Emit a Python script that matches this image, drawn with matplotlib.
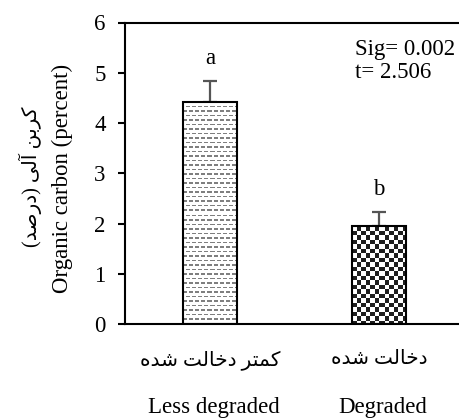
import numpy as np
import matplotlib
matplotlib.use("Agg")
import matplotlib.pyplot as plt
from matplotlib.transforms import blended_transform_factory

# data
groups_fa = ["کمتر دخالت شده", "دخالت شده"]
groups_en = ["Less degraded", "Degraded"]
means = [4.42, 1.95]
errors = [0.41, 0.27]
letters = ["a", "b"]
ylabel_fa = "کربن آلی (درصد)"
ylabel_en = "Organic carbon (percent)"
stats_text = "Sig= 0.002\nt= 2.506"

# Persian letters in presentation forms: isolated, final[, initial, medial]
FORMS = {
    'ا': '\uFE8D\uFE8E', 'آ': '\uFE81\uFE82', 'د': '\uFEA9\uFEAA', 'ر': '\uFEAD\uFEAE',
    'ب': '\uFE8F\uFE90\uFE91\uFE92', 'ت': '\uFE95\uFE96\uFE97\uFE98',
    'خ': '\uFEA5\uFEA6\uFEA7\uFEA8', 'ش': '\uFEB5\uFEB6\uFEB7\uFEB8',
    'ص': '\uFEB9\uFEBA\uFEBB\uFEBC', 'ل': '\uFEDD\uFEDE\uFEDF\uFEE0',
    'م': '\uFEE1\uFEE2\uFEE3\uFEE4', 'ن': '\uFEE5\uFEE6\uFEE7\uFEE8',
    'ه': '\uFEE9\uFEEA\uFEEB\uFEEC', 'ک': '\uFB8E\uFB8F\uFB90\uFB91',
    'ی': '\uFBFC\uFBFD\uFBFE\uFBFF',
}


def rtl(text):
    """Shape Persian text and put it in visual (left to right) order."""
    out = []
    for i, ch in enumerate(text):
        f = FORMS.get(ch)
        if f is None:
            out.append(ch)
            continue
        prev = text[i - 1] if i > 0 else ''
        nxt = text[i + 1] if i + 1 < len(text) else ''
        join_prev = len(FORMS.get(prev, '')) == 4
        join_next = len(f) == 4 and nxt in FORMS
        out.append(f[int(join_prev) + 2 * int(join_next)])
    return ''.join(out)[::-1].translate(str.maketrans('()', ')('))


FAM = ['Liberation Serif', 'DejaVu Sans']
FS = 16.5
FS_FA = 14.5

fig = plt.figure(figsize=(4.6, 4.2), dpi=100)
ax = fig.add_axes([125 / 460, 96 / 420, 335 / 460, 301.5 / 420])

x = np.arange(len(means))
bars = ax.bar(x, means, width=0.32, facecolor='none', edgecolor='black',
              linewidth=1.5, zorder=3)
ax.errorbar(x, means, yerr=[np.zeros(len(errors)), errors], fmt='none',
            ecolor='#555555', elinewidth=1.6, capsize=5, capthick=1.6, zorder=1)

ax.set_xlim(-0.503, 1.479)
ax.set_ylim(0, 6)


def texture(patch, kind):
    bb = patch.get_window_extent()
    w, h = int(round(bb.width)), int(round(bb.height))
    yy, xx = np.mgrid[0:h, 0:w]
    if kind == 'checker':
        on = ((xx / 4.5).astype(int) + (yy / 4.5).astype(int)) % 2 == 1
        dark = 0.12
    else:
        row = (yy / 4.5).astype(int)
        line = (yy % 4.5) < 1.2
        on = line & (((xx + 3 * (row % 2)) % 6) < 3.5)
        dark = 0.5
    img = np.where(on[..., None], dark, 1.0) * np.ones(3)
    x0 = patch.get_x()
    ax.imshow(img, extent=(x0, x0 + patch.get_width(), 0, patch.get_height()),
              interpolation='nearest', aspect='auto', zorder=2)


texture(bars[0], 'dash')
texture(bars[1], 'checker')
ax.set_xlim(-0.503, 1.479)
ax.set_ylim(0, 6)

for xi, m, e, lt in zip(x, means, errors, letters):
    ax.text(xi, m + e + 0.45, lt, ha='center', va='center', family=FAM, fontsize=FS)

ax.text(0.687, 0.945, stats_text, transform=ax.transAxes, ha='left', va='top',
        family=FAM, fontsize=FS, linespacing=1.1)

ax.spines['right'].set_visible(False)
for s in ['left', 'bottom', 'top']:
    ax.spines[s].set_linewidth(1.5)

ax.set_yticks(range(7))
ax.tick_params(axis='y', direction='out', length=5, width=1.5, pad=9, labelsize=FS)
for lab in ax.get_yticklabels():
    lab.set_family(FAM)

ax.set_xticks(x, labels=[])
ax.tick_params(axis='x', length=0)

trans = blended_transform_factory(ax.transData, ax.transAxes)
for xi, fa, en in zip(x, groups_fa, groups_en):
    ax.text(xi, -36 / 301.5, rtl(fa), transform=trans, ha='center', va='center',
            family=FAM, fontsize=FS_FA)
    ax.text(xi + 0.02, -84 / 301.5, en, transform=trans, ha='center', va='center',
            family=FAM, fontsize=FS)

fig.text(30 / 460, 1 - 177 / 420, rtl(ylabel_fa), rotation=90, ha='center',
         va='center', family=FAM, fontsize=FS_FA)
fig.text(62 / 460, 1 - 178 / 420, ylabel_en, rotation=90, ha='center',
         va='center', family=FAM, fontsize=FS)

fig.savefig("out.png", dpi=100)
